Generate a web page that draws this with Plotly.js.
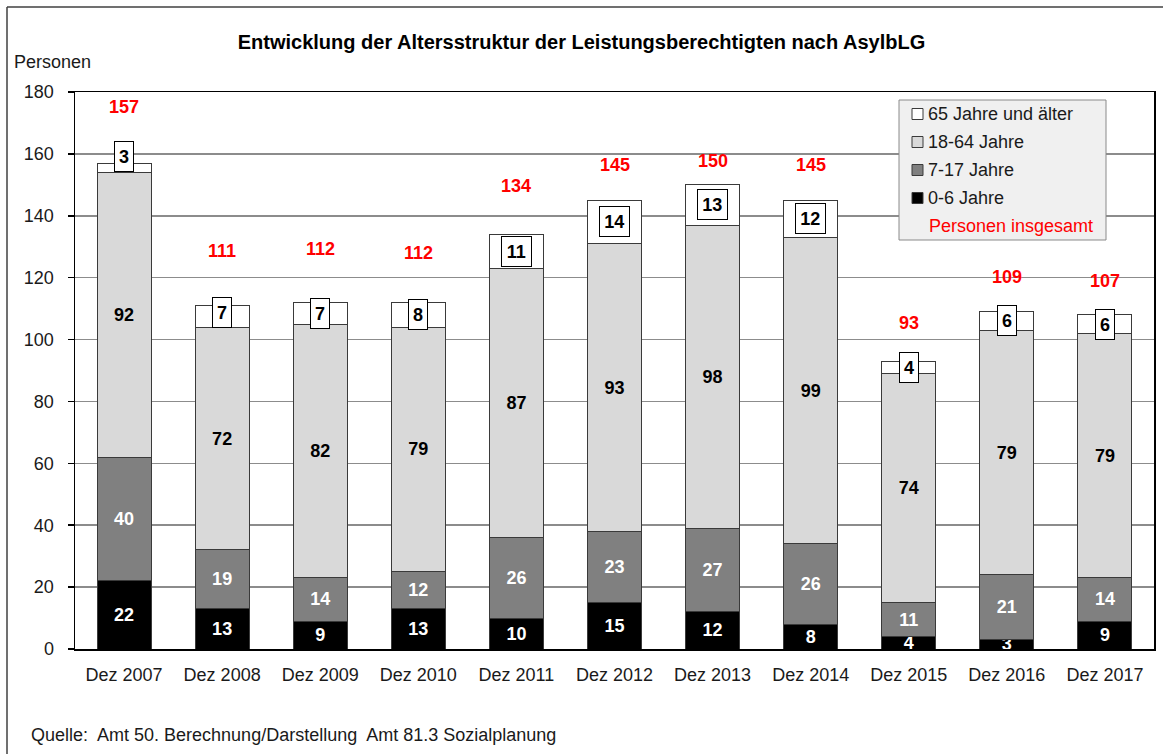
<!DOCTYPE html>
<html>
<head>
<meta charset="utf-8">
<script src="https://cdn.plot.ly/plotly-3.0.1.min.js"></script>
<style>html,body{margin:0;padding:0;background:#fff;}#chart{width:1163px;height:754px;}</style>
</head>
<body>
<div id="chart"></div>
<script>
// ---- data ----
const categories = ["Dez 2007","Dez 2008","Dez 2009","Dez 2010","Dez 2011","Dez 2012","Dez 2013","Dez 2014","Dez 2015","Dez 2016","Dez 2017"];
const age0to6   = [22,13, 9,13,10,15,12, 8, 4, 3, 9];
const age7to17  = [40,19,14,12,26,23,27,26,11,21,14];
const age18to64 = [92,72,82,79,87,93,98,99,74,79,79];
const age65plus = [ 3, 7, 7, 8,11,14,13,12, 4, 6, 6];
const totals    = [157,111,112,112,134,145,150,145,93,109,107];
const seriesNames = ["0-6 Jahre","7-17 Jahre","18-64 Jahre","65 Jahre und älter"];
const yTicks = [0,20,40,60,80,100,120,140,160,180];

// ---- layout helpers (pixel -> paper) ----
const W = 1163, H = 754, L = 75, R = 9, T = 92, B = 105;
const PW = W - L - R, PH = H - T - B;
const px = x => (x - L) / PW;
const py = y => (H - B - y) / PH;

const FONT = '"Liberation Sans",Arial,sans-serif';
const colors = ["#000000","#808080","#d9d9d9","#ffffff"];
const lineCol = "#3a3a3a";

// label placement tweaks (pixels)
const totalLabelShift = [56,55,53,49,48,35,24,35,38,35,34];
const topLabelShift   = [11,4,0,0,0,0,0,0,0,0,0];

const series = [age0to6, age7to17, age18to64, age65plus];
const txtColors = ["#ffffff","#ffffff","#000000","#000000"];
const traces = series.map((vals, i) => ({
  type: "bar",
  name: seriesNames[i],
  x: categories,
  y: vals,
  text: vals.map(String),
  texttemplate: "%{text}",
  textposition: i === 3 ? "none" : "inside",
  insidetextanchor: "middle",
  textangle: 0,
  constraintext: "none",
  cliponaxis: false,
  textfont: {family: FONT, size: 18, color: txtColors[i], weight: "bold"},
  marker: {color: colors[i], line: {color: lineCol, width: 1}},
  hoverinfo: "x+y+name",
  showlegend: false
}));

const annotations = [];
// 65+ boxed labels and red totals
categories.forEach((c, k) => {
  const base = age0to6[k] + age7to17[k] + age18to64[k];
  const top = base + age65plus[k];
  const t = String(age65plus[k]);
  annotations.push({
    x: c, y: base + age65plus[k] / 2, xref: "x", yref: "y",
    text: t, showarrow: false, yshift: topLabelShift[k],
    font: {family: FONT, size: 18, color: "#000", weight: "bold"},
    bgcolor: "#ffffff", bordercolor: "#000000", borderwidth: 1, borderpad: 2,
    width: t.length * 10.5 + 3.5, height: 25, align: "center", valign: "middle"
  });
  annotations.push({
    x: c, y: top, xref: "x", yref: "y", yanchor: "middle",
    text: String(totals[k]), showarrow: false, yshift: totalLabelShift[k],
    font: {family: FONT, size: 18, color: "#ff0000", weight: "bold"}
  });
});

// Personen axis label
annotations.push({xref: "paper", yref: "paper", x: px(12), y: py(62), xanchor: "left", yanchor: "middle",
  text: "Personen", showarrow: false, font: {family: FONT, size: 18, color: "#1a1a1a"}});
// source
annotations.push({xref: "paper", yref: "paper", x: px(29), y: py(735), xanchor: "left", yanchor: "middle",
  text: "Quelle:  Amt 50. Berechnung/Darstellung  Amt 81.3 Sozialplanung", showarrow: false,
  font: {family: FONT, size: 18, color: "#1a1a1a"}});

// manual legend
const shapes = [];
shapes.push({type: "rect", xref: "paper", yref: "paper", x0: px(899), x1: px(1106), y0: py(240), y1: py(100),
  fillcolor: "#f0f0f0", line: {color: "#8a8a8a", width: 1}, layer: "above"});
const legendOrder = [3, 2, 1, 0];
const rowY = [114, 142, 170, 198];
legendOrder.forEach((si, r) => {
  shapes.push({type: "rect", xref: "paper", yref: "paper", x0: px(912), x1: px(923), y0: py(rowY[r] + 5.5), y1: py(rowY[r] - 5.5),
    fillcolor: colors[si], line: {color: lineCol, width: 1}, layer: "above"});
  annotations.push({xref: "paper", yref: "paper", x: px(926), y: py(rowY[r]), xanchor: "left", yanchor: "middle",
    text: seriesNames[si], showarrow: false, font: {family: FONT, size: 18, color: "#1a1a1a"}});
});
annotations.push({xref: "paper", yref: "paper", x: px(927), y: py(226), xanchor: "left", yanchor: "middle",
  text: "Personen insgesamt", showarrow: false, font: {family: FONT, size: 18, color: "#ff0000"}});

// outer frame (top and left visible)
shapes.push({type: "line", xref: "paper", yref: "paper", x0: px(7), x1: px(1163), y0: py(7), y1: py(7), line: {color: "#404040", width: 1.5}});
shapes.push({type: "line", xref: "paper", yref: "paper", x0: px(7), x1: px(7), y0: py(7), y1: py(754), line: {color: "#404040", width: 1.5}});

const layout = {
  width: W, height: H,
  margin: {l: L, r: R, t: T, b: B},
  paper_bgcolor: "#ffffff", plot_bgcolor: "#ffffff",
  barmode: "stack",
  bargap: 0.45,
  title: {text: "<b>Entwicklung der Altersstruktur der Leistungsberechtigten nach AsylbLG</b>",
    x: 0.5, xref: "container", y: 1 - 42 / H, yref: "container", yanchor: "middle",
    font: {family: FONT, size: 20, color: "#000"}},
  xaxis: {type: "category", showline: true, linecolor: "#000", linewidth: 1.5, mirror: true,
    ticks: "", tickfont: {family: FONT, size: 18, color: "#1a1a1a"}, ticklabelstandoff: 9, fixedrange: true},
  yaxis: {range: [0, 180], tickvals: yTicks, ticktext: yTicks.map(String), showline: true, linecolor: "#000", linewidth: 1.5, mirror: true,
    ticks: "outside", ticklen: 6, tickcolor: "#000", tickwidth: 1.5,
    showgrid: true, gridcolor: "#8c8c8c", gridwidth: 1.5, zeroline: false,
    tickfont: {family: FONT, size: 18, color: "#1a1a1a"}, ticklabelstandoff: 10, fixedrange: true},
  shapes: shapes,
  annotations: annotations,
  showlegend: false
};

Plotly.newPlot("chart", traces, layout, {displayModeBar: false, staticPlot: true});
</script>
</body>
</html>
